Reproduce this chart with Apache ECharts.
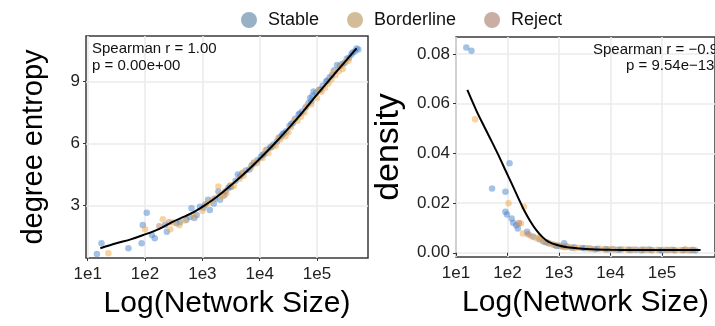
<!DOCTYPE html>
<html>
<head>
<meta charset="utf-8">
<script src="https://cdn.jsdelivr.net/npm/echarts@6/dist/echarts.min.js"></script>
<style>
  html, body { margin: 0; padding: 0; background: #fff; overflow: hidden; }
  #chart { width: 715px; height: 326px; }
</style>
</head>
<body>
<div id="chart"></div>
<script>
// x = log10(network size)
var xTicks = [1, 2, 3, 4, 5];
var entropyTicks = [3, 6, 9];
var densityTicks = [0, 0.02, 0.04, 0.06, 0.08];

// left panel: degree entropy
var entropyStable = [[1.16,0.66],[1.24,1.18],[1.71,0.94],[1.94,1.18],[1.96,2.07],[2.03,2.66],[2.12,1.58],[2.17,1.42],
    [2.35,2.07],[2.38,1.74],[2.55,2.15],[2.61,2.2],[2.72,2.32],[2.78,2.45],[2.81,2.87],[2.86,2.4],[2.9,2.55],
    [2.96,2.95],[3.02,2.9],[3.05,3.05],[3.1,3.28],[3.13,2.79],[3.2,3.1],[3.22,3.35],[3.28,3.68],[3.31,3.28],
    [3.38,3.5],[3.45,3.85],[3.48,3.95],[3.5,3.9],[3.58,4.2],[3.62,4.5],[3.66,4.42],[3.7,4.55],[3.76,4.7],
    [3.82,4.75],[3.86,4.95],[3.9,5.05],[3.96,5.2],[4.02,5.35],[4.05,5.45],[4.08,5.5],[4.12,5.7],[4.18,5.8],
    [4.2,5.85],[4.24,5.95],[4.3,6.1],[4.34,6.3],[4.38,6.35],[4.4,6.45],[4.42,6.5],[4.46,6.6],[4.52,6.85],
    [4.55,6.95],[4.58,7.0],[4.62,7.2],[4.68,7.4],[4.7,7.45],[4.74,7.55],[4.8,7.75],[4.85,7.95],[4.88,8.2],
    [4.9,8.05],[4.92,8.3],[4.94,8.52],[4.98,8.45],[5.04,8.6],[5.06,8.6],[5.1,8.8],[5.16,9.0],[5.18,9.05],
    [5.22,9.2],[5.26,9.3],[5.3,9.55],[5.35,9.8],[5.4,9.75],[5.44,9.85],[5.48,9.9],[5.52,10.1],[5.56,10.15],
    [5.6,10.3],[5.62,10.4],[5.66,10.45],[5.69,10.6],[5.72,10.55]];
var entropyBorder = [[1.36,0.7],[2.0,1.86],[2.31,2.34],[2.44,1.86],[2.49,2.18],[2.6,2.05],[2.7,2.28],[2.85,2.5],
    [3.0,2.75],[3.06,3.05],[3.12,3.15],[3.18,3.3],[3.28,3.92],[3.3,3.5],[3.35,3.45],[3.42,3.6],[3.5,4.0],
    [3.55,3.95],[3.65,4.3],[3.7,4.6],[3.72,4.45],[3.85,4.85],[3.9,5.1],[3.95,5.05],[4.05,5.3],[4.1,5.65],
    [4.15,5.55],[4.22,5.85],[4.28,5.9],[4.32,6.25],[4.36,6.2],[4.45,6.35],[4.5,6.55],[4.55,6.8],[4.6,7.1],
    [4.66,7.1],[4.72,7.3],[4.78,7.5],[4.82,7.8],[4.9,7.9],[5.0,8.2],[5.03,8.55],[5.08,8.5],[5.14,8.7],
    [5.2,8.9],[5.25,9.1],[5.28,9.45],[5.32,9.3],[5.38,9.5],[5.42,9.75],[5.45,9.6],[5.5,9.95],[5.55,10.0]];
var entropyReject = [[2.25,2.0],[2.42,2.2],[3.4,3.7]];
var entropyFit = [[1.22,0.94],[1.5,1.18],[1.75,1.37],[1.97,1.58],[2.25,1.88],[2.49,2.23],[2.75,2.55],
    [2.96,2.87],[3.25,3.42],[3.54,4.08],[3.8,4.72],[4.01,5.29],[4.27,6.03],[4.53,6.82],[4.75,7.52],
    [4.97,8.27],[5.3,9.35],[5.69,10.6]];

// right panel: density
var densityStable = [[1.2,0.0826],[1.3,0.0813],[1.7,0.0259],[1.96,0.0245],[2.04,0.036],[1.96,0.0165],
    [1.99,0.0154],[2.08,0.0138],[2.11,0.0121],[2.17,0.0111],[2.2,0.0098],[2.38,0.0085],[2.5,0.0064],
    [2.62,0.0054],[2.7,0.0045],[2.75,0.0042],[2.8,0.0038],[2.9,0.0032],[2.95,0.0027],[3.0,0.0028],
    [3.08,0.0024],[3.1,0.0038],[3.15,0.0025],[3.25,0.002],[3.3,0.0022],[3.45,0.0019],[3.5,0.0018],
    [3.6,0.0017],[3.7,0.0014],[3.75,0.0016],[3.9,0.0015],[3.95,0.0013],[4.05,0.0014],[4.15,0.0012],
    [4.2,0.0013],[4.35,0.0013],[4.4,0.0011],[4.5,0.0012],[4.6,0.001],[4.65,0.0012],[4.75,0.0013],
    [4.8,0.0011],[4.95,0.0011],[5.0,0.0009],[5.1,0.0011],[5.2,0.0012],[5.25,0.001],[5.4,0.001],
    [5.45,0.0012],[5.55,0.001],[5.6,0.0011],[5.65,0.0009]];
var densityBorder = [[1.37,0.0537],[2.02,0.0199],[2.32,0.0185],[2.26,0.0118],[2.3,0.0078],[2.45,0.0068],
    [2.56,0.0058],[2.62,0.0062],[2.68,0.0048],[2.78,0.004],[2.85,0.0035],[2.95,0.003],[3.05,0.0026],
    [3.12,0.0022],[3.2,0.0023],[3.3,0.0018],[3.38,0.002],[3.55,0.0018],[3.65,0.0015],[3.8,0.0016],
    [3.9,0.0013],[4.0,0.0015],[4.1,0.0012],[4.25,0.0014],[4.35,0.0011],[4.45,0.0013],[4.6,0.0013],
    [4.7,0.0012],[4.8,0.001],[4.9,0.0012],[5.05,0.0012],[5.15,0.0011],[5.25,0.001],[5.35,0.0011],
    [5.45,0.0013],[5.5,0.001],[5.6,0.0012]];
var densityReject = [[2.22,0.012],[2.4,0.0075]];
var densityFit = [[1.22,0.0655],[1.4,0.057],[1.55,0.0507],[1.7,0.0445],[1.84,0.0386],[1.96,0.0332],
    [2.08,0.0279],[2.2,0.0225],[2.32,0.0172],[2.44,0.0128],[2.56,0.0091],[2.68,0.0063],[2.8,0.0044],
    [2.98,0.003],[3.16,0.0022],[3.4,0.0017],[3.63,0.0014],[4.0,0.0012],[4.5,0.0011],[5.75,0.0011]];

var font = 'Liberation Sans, Arial, Helvetica, sans-serif';
var colStable = 'rgba(70,130,205,0.62)';
var colBorder = 'rgba(240,165,65,0.62)';
var colReject = 'rgba(180,120,110,0.62)';

function xAxisOf(idx, min, max) {
    return {
        type: 'value', gridIndex: idx, min: min, max: max,
        name: 'Log(Network Size)', nameLocation: 'middle', nameGap: 31,
        nameTextStyle: { fontSize: 30, color: '#000', fontFamily: font },
        axisLine: { show: false },
        axisTick: { show: true, length: 3, customValues: xTicks, lineStyle: { color: '#333' } },
        axisLabel: { customValues: xTicks, margin: 8, fontSize: 17, color: '#222', fontFamily: font,
            formatter: function (v) { return '1e' + v; } },
        splitLine: { show: true, lineStyle: { color: '#ebebeb', width: 1.6 } }
    };
}
function yAxisOf(idx, min, max, ticks, name, size, gap, fmt) {
    return {
        type: 'value', gridIndex: idx, min: min, max: max,
        name: name, nameLocation: 'middle', nameGap: gap,
        nameTextStyle: { fontSize: size, color: '#000', fontFamily: font },
        axisLine: { show: false },
        axisTick: { show: true, length: 3, customValues: ticks, lineStyle: { color: '#333' } },
        axisLabel: { customValues: ticks, margin: 6, fontSize: 17, color: '#222', fontFamily: font, formatter: fmt },
        splitLine: { show: true, lineStyle: { color: '#ebebeb', width: 1.6 } }
    };
}
function dots(name, idx, data, color) {
    return { name: name, type: 'scatter', xAxisIndex: idx, yAxisIndex: idx, data: data,
        symbolSize: 6.5, itemStyle: { color: color }, silent: true };
}
function fit(idx, data) {
    return { type: 'line', xAxisIndex: idx, yAxisIndex: idx, data: data, smooth: 0.3,
        showSymbol: false, lineStyle: { color: '#000', width: 2 }, z: 5, silent: true };
}

var chart = echarts.init(document.getElementById('chart'));
var option = {
    animation: false,
    legend: {
        left: 236, top: 6, icon: 'circle', itemWidth: 16, itemHeight: 16, itemGap: 28,
        textStyle: { fontSize: 18, color: '#111', fontFamily: font, padding: [0, 0, 0, 6] },
        data: [
            { name: 'Stable', itemStyle: { color: '#7f9db6' } },
            { name: 'Borderline', itemStyle: { color: '#c8ad80' } },
            { name: 'Reject', itemStyle: { color: '#bc9a8c' } }
        ]
    },
    grid: [
        { left: 86, top: 36, width: 282, height: 222, show: true, borderColor: '#3a3a3a', borderWidth: 1.5, backgroundColor: '#fff' },
        { left: 456, top: 37, width: 282, height: 220, show: true, borderColor: '#3a3a3a', borderWidth: 1.5, backgroundColor: '#fff' }
    ],
    xAxis: [xAxisOf(0, 0.97, 5.89), xAxisOf(1, 1.0, 6.03)],
    yAxis: [
        yAxisOf(0, 0.47, 11.2, entropyTicks, 'degree entropy', 29, 38, function (v) { return String(v); }),
        yAxisOf(1, -0.0017, 0.0868, densityTicks, 'density', 34, 50, function (v) { return v.toFixed(2); })
    ],
    graphic: [
        { type: 'text', z: 100, left: 92, top: 40, style: { text: 'Spearman r = 1.00\np = 0.00e+00', fontSize: 15, lineHeight: 17, fill: '#111', fontFamily: font } },
        { type: 'text', z: 100, left: 593, top: 42, style: { text: 'Spearman r = \u22120.93', fontSize: 15, fill: '#111', fontFamily: font } },
        { type: 'text', z: 100, left: 626, top: 58, style: { text: 'p = 9.54e\u221213', fontSize: 15, fill: '#111', fontFamily: font } }
    ],
    series: [
        dots('Stable', 0, entropyStable, colStable),
        dots('Borderline', 0, entropyBorder, colBorder),
        dots('Reject', 0, entropyReject, colReject),
        fit(0, entropyFit),
        dots('Stable', 1, densityStable, colStable),
        dots('Borderline', 1, densityBorder, colBorder),
        dots('Reject', 1, densityReject, colReject),
        fit(1, densityFit)
    ]
};
chart.setOption(option);
</script>
</body>
</html>
